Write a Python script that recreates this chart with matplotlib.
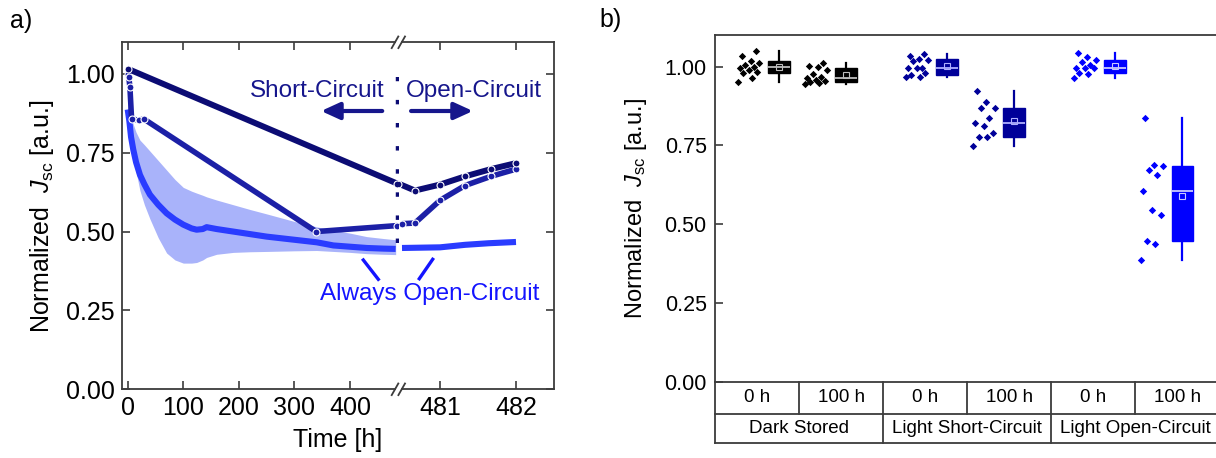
import numpy as np
import matplotlib
matplotlib.use("Agg")
import matplotlib.pyplot as plt
from matplotlib.transforms import blended_transform_factory
from matplotlib.lines import Line2D

plt.rcParams['font.family'] = ['Liberation Sans', 'DejaVu Sans']
plt.rcParams['mathtext.fontset'] = 'custom'
plt.rcParams['mathtext.rm'] = 'Liberation Sans'
plt.rcParams['mathtext.it'] = 'Liberation Sans:italic'

# ---------------- Panel a data ----------------
# Short-circuit then open-circuit (dark navy)
t_sc = [0, 485]
j_sc = [1.016, 0.652]
t_sc_r = [480.454, 480.67, 481.0, 481.33, 481.67, 482.0]
j_sc_r = [0.652, 0.630, 0.649, 0.675, 0.698, 0.717]

# Middle curve (medium navy)
t_mid = [0, 2, 4, 7, 20, 29, 339, 485]
j_mid = [1.0, 0.99, 0.957, 0.857, 0.853, 0.857, 0.500, 0.519]
t_mid_r = [480.5, 480.67, 481.0, 481.33, 481.67, 482.0]
j_mid_r = [0.525, 0.527, 0.599, 0.646, 0.675, 0.698]

# Always open-circuit (blue) with spread band
t_oc = [0, 3, 6, 10, 15, 22, 30, 40, 55, 70, 85, 100, 115, 124, 135, 142, 160,
        190, 220, 250, 300, 340, 370, 400, 430, 460, 482]
j_oc = [0.887, 0.85, 0.80, 0.76, 0.72, 0.68, 0.65, 0.617, 0.585, 0.558, 0.538,
        0.522, 0.51, 0.506, 0.508, 0.514, 0.508, 0.500, 0.492, 0.484, 0.474,
        0.466, 0.456, 0.452, 0.448, 0.446, 0.445]
j_oc_hi = [1.035, 0.95, 0.88, 0.84, 0.815, 0.79, 0.775, 0.755, 0.725, 0.695, 0.665,
           0.64, 0.628, 0.622, 0.615, 0.61, 0.60, 0.585, 0.57, 0.556, 0.532,
           0.515, 0.504, 0.495, 0.484, 0.478, 0.474]
j_oc_lo = [0.87, 0.84, 0.80, 0.74, 0.69, 0.63, 0.585, 0.54, 0.48, 0.432, 0.41,
           0.40, 0.40, 0.402, 0.41, 0.418, 0.428, 0.434, 0.436, 0.437, 0.439,
           0.44, 0.437, 0.434, 0.43, 0.428, 0.427]
t_oc_r = [480.5, 481.0, 481.33, 481.64, 482.0]
j_oc_r = [0.448, 0.450, 0.458, 0.463, 0.467]

left_xticks = [0, 100, 200, 300, 400]
right_xticks = [481, 482]
yticks = [0.0, 0.25, 0.5, 0.75, 1.0]

# ---------------- Panel b data ----------------
conditions = ['Dark Stored', 'Light Short-Circuit', 'Light Open-Circuit']
time_labels = ['0 h', '100 h']
dark_0h = [0.952, 0.965, 0.978, 0.982, 0.99, 0.995, 1.0, 1.005, 1.012, 1.018, 1.034, 1.05]
dark_100h = [0.944, 0.948, 0.950, 0.953, 0.958, 0.962, 0.968, 0.975, 0.99, 0.998, 1.003, 1.011]
lsc_0h = [0.966, 0.968, 0.972, 0.98, 0.994, 0.995, 0.996, 1.018, 1.022, 1.024, 1.034, 1.04]
lsc_100h = [0.749, 0.776, 0.776, 0.79, 0.812, 0.822, 0.838, 0.868, 0.868, 0.889, 0.921]
loc_0h = [0.963, 0.976, 0.981, 0.994, 0.995, 0.996, 1.004, 1.015, 1.02, 1.03, 1.042]
loc_100h = [0.386, 0.438, 0.446, 0.529, 0.545, 0.605, 0.656, 0.672, 0.683, 0.688, 0.836]
samples = [dark_0h, dark_100h, lsc_0h, lsc_100h, loc_0h, loc_100h]

# ---------------- styles ----------------
C_DARK = '#0c0c74'
C_MID = '#1c20a6'
C_OC = '#2a3cff'
C_BAND = '#a9b3fa'
C_TXT = '#16168c'
C_AOC = '#1414ff'
SPINE = '#3c3c3c'
box_colors = ['#000000', '#000000', '#000099', '#000099', '#0000ff', '#0000ff']
med_colors = ['#bdbdbd', '#bdbdbd', '#b0b0ff', '#b0b0ff', '#c8c8ff', '#c8c8ff']

W, H = 1216, 458
fig = plt.figure(figsize=(W / 100, H / 100), dpi=100)


def fx(px):
    return px / W


def fy(py):
    return 1 - py / H


# ---------------- Panel a ----------------
x0, xb, x1 = 121.7, 398.5, 554.0
ytop, ybot = 42.3, 389.3
ax_l = fig.add_axes([fx(x0), fy(ybot), fx(xb) - fx(x0), fy(ytop) - fy(ybot)])
ax_r = fig.add_axes([fx(xb), fy(ybot), fx(x1) - fx(xb), fy(ytop) - fy(ybot)], sharey=ax_l)

ax_l.set_xlim(-10.8, 487.1)
ax_r.set_xlim(480.454, 482.5)
ax_l.set_ylim(0, 1.10)

ax_l.fill_between(t_oc, j_oc_lo, j_oc_hi, color=C_BAND, lw=0, zorder=1)
ax_l.plot(t_oc, j_oc, color=C_OC, lw=4.4, solid_capstyle='butt', zorder=2)
ax_r.plot(t_oc_r, j_oc_r, color=C_OC, lw=4.4, solid_capstyle='butt', zorder=2)

mk = dict(marker='o', ms=5, mec='white', mew=0.8, solid_capstyle='butt')
ax_l.plot(t_mid, j_mid, color=C_MID, lw=4.0, zorder=3, **mk)
ax_r.plot(t_mid_r, j_mid_r, color=C_MID, lw=4.0, zorder=3, **mk)
ax_l.plot(t_sc, j_sc, color=C_DARK, lw=4.3, zorder=4, **mk)
ax_r.plot(t_sc_r, j_sc_r, color=C_DARK, lw=4.3, zorder=4, **mk)

# dotted separator at the switch from short- to open-circuit
ax_l.plot([485.6, 485.6], [0.465, 0.99], color=C_DARK, lw=3.2,
          linestyle=(0, (1, 4.2)), clip_on=False, zorder=5)

for ax in (ax_l, ax_r):
    for s in ax.spines.values():
        s.set_color(SPINE)
        s.set_linewidth(1.3)
    ax.tick_params(direction='in', length=6, width=1.2, color=SPINE,
                   labelsize=18, top=True, pad=5)
ax_l.spines['right'].set_visible(False)
ax_r.spines['left'].set_visible(False)
ax_l.spines['top'].set_bounds(-10.8, 480.8)
ax_l.spines['bottom'].set_bounds(-10.8, 480.8)
ax_r.spines['top'].set_bounds(480.5, 482.5)
ax_r.spines['bottom'].set_bounds(480.5, 482.5)
ax_l.set_xticks(left_xticks)
ax_r.set_xticks(right_xticks)
ax_l.set_yticks(yticks)
ax_l.set_yticklabels(['%.2f' % v for v in yticks])
ax_l.tick_params(axis='y', right=False)
ax_r.tick_params(axis='y', left=False, right=True, labelleft=False)

# break marks
for ybrk in (ytop, ybot):
    for xc in (395.0, 401.7):
        fig.add_artist(Line2D([fx(xc - 3.3), fx(xc + 3.3)], [fy(ybrk + 5.8), fy(ybrk - 5.8)],
                              transform=fig.transFigure, color=SPINE, lw=1.3))

# annotations
fig.text(fx(385), fy(96.7), 'Short-Circuit', ha='right', va='baseline',
         fontsize=17.5, color=C_TXT)
fig.text(fx(406), fy(96.7), 'Open-Circuit', ha='left', va='baseline',
         fontsize=17.5, color=C_TXT)
fig.add_artist(matplotlib.patches.FancyArrowPatch((fx(385), fy(111)), (fx(318.3), fy(111)),
               transform=fig.transFigure, mutation_scale=16,
               arrowstyle='-|>,head_length=0.7,head_width=0.32', lw=3, color=C_TXT))
fig.add_artist(matplotlib.patches.FancyArrowPatch((fx(408.3), fy(111)), (fx(475.7), fy(111)),
               transform=fig.transFigure, mutation_scale=16,
               arrowstyle='-|>,head_length=0.7,head_width=0.32', lw=3, color=C_TXT))
fig.text(fx(429.2), fy(300), 'Always Open-Circuit', ha='center', va='baseline',
         fontsize=17.5, color=C_AOC)
fig.add_artist(Line2D([fx(363.3), fx(378.3)], [fy(260), fy(279.3)],
                      transform=fig.transFigure, color=C_AOC, lw=2.4))
fig.add_artist(Line2D([fx(432.7), fx(419.3)], [fy(259.3), fy(278.7)],
                      transform=fig.transFigure, color=C_AOC, lw=2.4))

fig.text(fx(337.9), fy(440), 'Time [h]', ha='center', va='center', fontsize=18)
fig.text(fx(42), fy(215.8), r'Normalized  $J_{\mathrm{sc}}$ [a.u.]', rotation=90,
         ha='center', va='center', fontsize=18)
fig.text(fx(21), fy(21), 'a)', ha='center', va='center', fontsize=18)

# ---------------- Panel b ----------------
bx0, bx1, btop, bbot = 715.0, 1219.3, 35.0, 381.7
axb = fig.add_axes([fx(bx0), fy(bbot), fx(bx1) - fx(bx0), fy(btop) - fy(bbot)])
axb.set_xlim(0, 7.5)
axb.set_ylim(0, 1.10)

box_pos = [0.95, 1.95, 3.45, 4.45, 5.95, 6.95]
for i, (vals, pos) in enumerate(zip(samples, box_pos)):
    v = np.asarray(vals, dtype=float)
    q1, med, q3 = np.percentile(v, [25, 50, 75], method='weibull')
    stats = [dict(med=med, q1=q1, q3=q3, whislo=v.min(), whishi=v.max(),
                  mean=v.mean(), fliers=[])]
    c = box_colors[i]
    axb.bxp(stats, positions=[pos], widths=0.32, patch_artist=True,
            showmeans=True, showcaps=False, showfliers=False,
            boxprops=dict(facecolor=c, edgecolor=c, lw=1),
            whiskerprops=dict(color=c, lw=1.6),
            medianprops=dict(color=med_colors[i], lw=1.3),
            meanprops=dict(marker='s', markersize=4, markerfacecolor='none',
                           markeredgecolor=med_colors[i], markeredgewidth=0.8),
            manage_ticks=False)
    # jittered points next to the box (deterministic pattern)
    k = np.arange(len(v))
    jit = 0.17 * (((k * 0.618034) % 1.0) * 2 - 1)
    axb.scatter(pos - 0.44 + jit, v, marker='D', s=14, color=c, lw=0, zorder=3)

for s in axb.spines.values():
    s.set_color(SPINE)
    s.set_linewidth(1.3)
axb.set_xticks([])
axb.set_yticks(yticks)
axb.set_yticklabels(['%.2f' % v for v in yticks])
axb.tick_params(axis='y', direction='in', length=6, width=1.2, color=SPINE,
                labelsize=15.5, pad=6)

# category table below the axis
tr = blended_transform_factory(axb.transData, axb.transAxes)
r1 = -(414.0 - bbot) / (bbot - btop)
r2 = -(443.3 - bbot) / (bbot - btop)
lk = dict(color=SPINE, lw=1.3, clip_on=False, transform=tr)
axb.plot([0, 7.5], [r1, r1], **lk)
axb.plot([0, 7.5], [r2, r2], **lk)
for xv in [0, 2.5, 5.0, 7.5]:
    axb.plot([xv, xv], [0, r2], **lk)
for xv in [1.25, 3.75, 6.25]:
    axb.plot([xv, xv], [0, r1], **lk)
for g, cond in enumerate(conditions):
    axb.text(g * 2.5 + 1.25, (r1 + r2) / 2, cond, transform=tr, ha='center',
             va='center', fontsize=13.5)
    for j, tl in enumerate(time_labels):
        axb.text(g * 2.5 + 0.625 + j * 1.25, r1 / 2, tl, transform=tr,
                 ha='center', va='center', fontsize=13.5)

fig.text(fx(636), fy(208), r'Normalized  $J_{\mathrm{sc}}$ [a.u.]', rotation=90,
         ha='center', va='center', fontsize=17)
fig.text(fx(611), fy(20), 'b)', ha='center', va='center', fontsize=18)

fig.savefig('out.png', dpi=100)
